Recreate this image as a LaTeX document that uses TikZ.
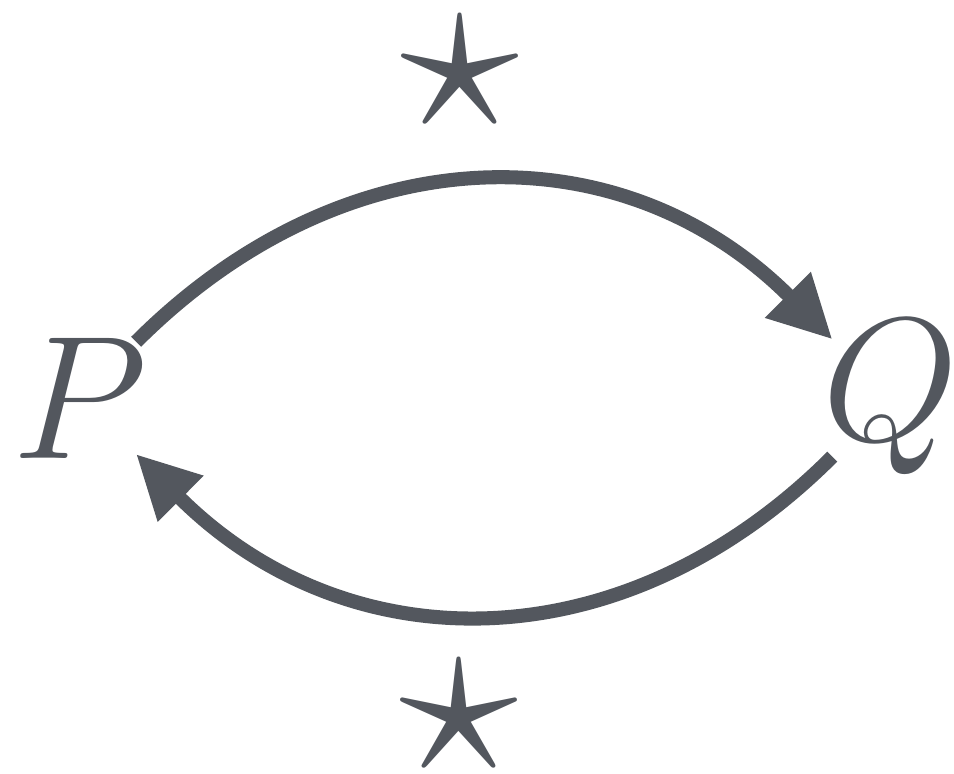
\RequirePackage{fix-cm}
\documentclass[tikz,border=0pt]{standalone}
\usepackage{xcolor}
\usepackage{tikz}
\usetikzlibrary{arrows.meta}
\definecolor{ink}{HTML}{53575E}

\begin{document}
\begin{tikzpicture}[
  x=0.01cm, y=0.01cm, color=ink,
  obj/.style={inner sep=0pt,font=\fontsize{50}{50}\selectfont},
  lbl/.style={inner sep=0pt,font=\fontsize{68}{68}\selectfont},
  >={Triangle[length=6.3mm,width=6.1mm]}, line width=4pt]
  \useasboundingbox (0,0) rectangle (954,774);
  \node[obj,outer sep=-1.1pt] (P) at (80,376) {$P$};
  \node[obj,outer sep=-2.7pt] (Q) at (891,376) {$Q$};
  \node[lbl] (top) at (460,701) {$\star$};
  \node[lbl] (bot) at (459,57) {$\star$};
  \draw[->] (P) to[out=45,in=135,looseness=1.09] (Q);
  \draw[->] (Q) to[out=225,in=-45,looseness=1.09] (P);
\end{tikzpicture}
\end{document}
